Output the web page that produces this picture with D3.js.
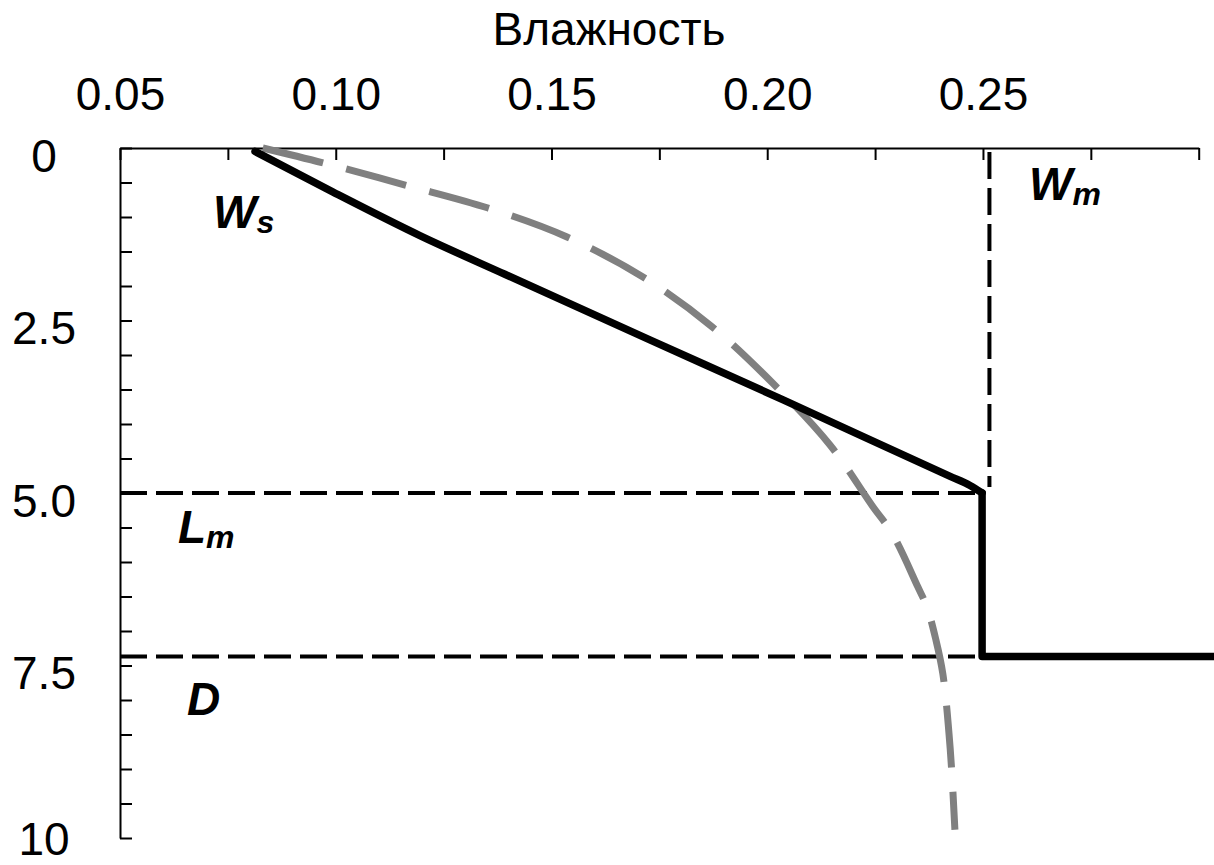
<!DOCTYPE html>
<html>
<head>
<meta charset="utf-8">
<script src="https://cdn.jsdelivr.net/npm/d3@7"></script>
<style>
  html, body { margin: 0; padding: 0; background: #fff; }
  svg { display: block; font-family: "Liberation Sans", Arial, sans-serif; }
</style>
</head>
<body>
<svg id="chart" width="1214" height="865"></svg>
<script>
// Moisture labels on the top axis and depth labels on the left axis
const moistureLabels = [0.05, 0.10, 0.15, 0.20, 0.25];
const depthLabels = [0, 2.5, 5.0, 7.5, 10];

// Characteristic levels
const wsValue = 0.0813;   // surface moisture W_s
const wmValue = 0.2515;   // maximum moisture W_m
const lmDepth = 5.0;      // depth L_m
const dDepth = 7.37;      // depth D

// Piecewise profile (solid black): sloping part down to L_m, then the step
const slopeMoisture = [0.0813, 0.0994, 0.1195, 0.1392, 0.1728, 0.2037, 0.2424, 0.2470, 0.2498];
const slopeDepth    = [0.05,   0.64,   1.27,   1.83,   2.78,   3.65,   4.76,   4.89,   5.0];
const stepMoisture  = [0.2498, 0.2498, 0.306];
const stepDepth     = [5.0,    7.37,   7.37];

// Smooth profile (grey dashed)
const curveMoisture = [0.0831, 0.0973, 0.1163, 0.1353, 0.1536, 0.1712, 0.1872, 0.2013, 0.2145, 0.2245, 0.2289, 0.2349, 0.2370, 0.2391, 0.2407, 0.2424, 0.2435];
const curveDepth    = [0.0,    0.22,   0.54,   0.87,   1.29,   1.87,   2.59,   3.41,   4.30,   5.20,   5.58,   6.36,   6.65,   7.13,   7.62,   8.70,   9.88];

const svg = d3.select("#chart");

const x = d3.scaleLinear().domain([0.05, 0.30]).range([120, 1198.7]);
const y = d3.scaleLinear().domain([0, 10]).range([148, 838]);

const FONT = "Liberation Sans, Arial, sans-serif";

// Title
svg.append("text")
  .attr("x", 609).attr("y", 45)
  .attr("text-anchor", "middle")
  .attr("font-size", 46)
  .text("Влажность");

// Top axis: ticks every 0.025, labels at 0.05 .. 0.25
const xTicks = d3.range(0, 11).map(i => +(0.05 + i * 0.025).toFixed(3));
const topAxis = d3.axisTop(x)
  .tickValues(xTicks)
  .tickSizeInner(-12)
  .tickSizeOuter(0)
  .tickFormat(d => moistureLabels.some(v => Math.abs(v - d) < 1e-9) ? d3.format(".2f")(d) : "");

const gTop = svg.append("g").attr("transform", `translate(0,${y(0)})`).call(topAxis);
gTop.select(".domain").attr("stroke", "#000").attr("stroke-width", 2);
gTop.selectAll(".tick line").attr("stroke", "#000").attr("stroke-width", 2);
gTop.selectAll(".tick text")
  .attr("y", -38).attr("dy", 0)
  .attr("font-size", 46)
  .attr("font-family", FONT)
  .attr("fill", "#000");

// Left axis: ticks every 0.5, labels at 0, 2.5, 5.0, 7.5, 10
const yTicks = d3.range(0, 21).map(i => i * 0.5);
const leftAxis = d3.axisLeft(y)
  .tickValues(yTicks)
  .tickSizeInner(-12)
  .tickSizeOuter(0)
  .tickFormat(d => {
    if (!depthLabels.some(v => Math.abs(v - d) < 1e-9)) return "";
    return (d === 0 || d === 10) ? String(d) : d3.format(".1f")(d);
  });

const gLeft = svg.append("g").attr("transform", `translate(${x(0.05)},0)`).call(leftAxis);
gLeft.select(".domain").attr("stroke", "#000").attr("stroke-width", 2);
gLeft.selectAll(".tick line").attr("stroke", "#000").attr("stroke-width", 2);
gLeft.selectAll(".tick text")
  .attr("x", -76).attr("dy", "0.35em")
  .attr("transform", d => `translate(0,${d === 10 ? 0 : 7})`)
  .attr("text-anchor", "middle")
  .attr("font-size", 46)
  .attr("font-family", FONT)
  .attr("fill", "#000");

// Reference dashed lines
const dashed = svg.append("g")
  .attr("stroke", "#000").attr("stroke-width", 4)
  .attr("stroke-dasharray", "27,9").attr("fill", "none");

dashed.append("line")
  .attr("x1", x(0.05)).attr("x2", x(stepMoisture[0]) - 6)
  .attr("y1", y(lmDepth)).attr("y2", y(lmDepth));
dashed.append("line")
  .attr("x1", x(0.05)).attr("x2", x(stepMoisture[1]) - 6)
  .attr("y1", y(dDepth)).attr("y2", y(dDepth));
dashed.append("line")
  .attr("x1", x(wmValue)).attr("x2", x(wmValue))
  .attr("y1", y(0) + 4).attr("y2", y(lmDepth) - 6);

// Grey dashed smooth profile
const curvePts = curveMoisture.map((w, i) => [w, curveDepth[i]]);
svg.append("path")
  .datum(curvePts)
  .attr("fill", "none")
  .attr("stroke", "#808080")
  .attr("stroke-width", 7)
  .attr("stroke-dasharray", "62,24")
  .attr("d", d3.line().x(d => x(d[0])).y(d => y(d[1])).curve(d3.curveCatmullRom.alpha(0.5)));

// Solid black piecewise profile
const slopePts = slopeMoisture.map((w, i) => [w, slopeDepth[i]]);
const stepPts = stepMoisture.map((w, i) => [w, stepDepth[i]]);
const black = svg.append("g")
  .attr("fill", "none")
  .attr("stroke", "#000")
  .attr("stroke-width", 7.5)
  .attr("stroke-linejoin", "round")
  .attr("stroke-linecap", "round");
black.append("path")
  .datum(slopePts)
  .attr("d", d3.line().x(d => x(d[0])).y(d => y(d[1])).curve(d3.curveMonotoneX));
black.append("path")
  .datum(stepPts)
  .attr("d", d3.line().x(d => x(d[0])).y(d => y(d[1])));

// Letter annotations
function label(px, py, main, sub) {
  const t = svg.append("text")
    .attr("x", px).attr("y", py)
    .attr("font-size", 46)
    .attr("font-weight", "bold")
    .attr("font-style", "italic")
    .attr("fill", "#000");
  t.append("tspan").text(main);
  if (sub) t.append("tspan").attr("font-size", 32).attr("dy", 5).text(sub);
}
label(213, 228, "W", "s");
label(1029, 200, "W", "m");
label(178, 543, "L", "m");
label(187, 715, "D", null);
</script>
</body>
</html>
